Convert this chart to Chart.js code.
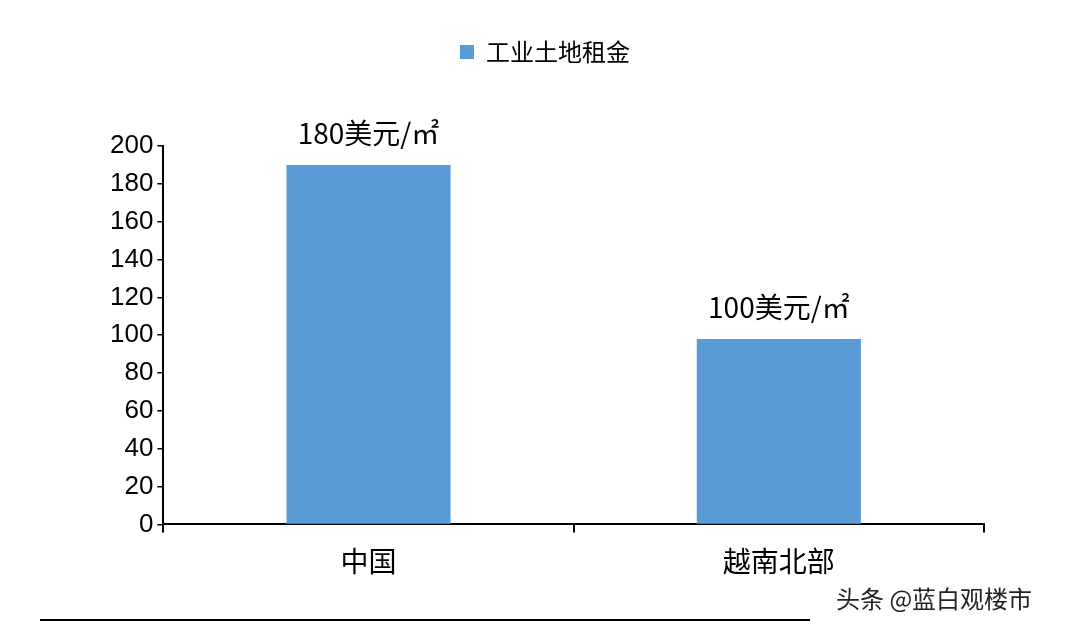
<!DOCTYPE html>
<html>
<head>
<meta charset="utf-8">
<script src="https://cdn.jsdelivr.net/npm/chart.js@4/dist/chart.umd.min.js"></script>
<style>
  html, body { margin: 0; padding: 0; background: #fff; }
  #wrap { width: 1080px; height: 630px; position: relative; }
</style>
</head>
<body>
<div id="wrap"><canvas id="c" width="1080" height="630"></canvas></div>
<script>
// --- data ---
const categories = ['中国', '越南北部'];
const rentValues = [190, 98];
const barLabels = ['180美元/㎡', '100美元/㎡'];
const seriesName = '工业土地租金';

// value labels above bars + footer line + watermark
const extrasPlugin = {
    id: 'extras',
    afterDatasetsDraw(chart) {
        const ctx = chart.ctx;
        const meta = chart.getDatasetMeta(0);
        ctx.save();
        ctx.fillStyle = '#000';
        ctx.font = '28px "Noto Sans CJK SC", sans-serif';
        ctx.textAlign = 'center';
        ctx.textBaseline = 'bottom';
        meta.data.forEach((bar, i) => {
            ctx.fillText(barLabels[i], bar.x, bar.y - 18);
        });
        // footer rule
        ctx.strokeStyle = '#000';
        ctx.lineWidth = 2;
        ctx.beginPath();
        ctx.moveTo(40, 620);
        ctx.lineTo(810, 620);
        ctx.stroke();
        // watermark
        ctx.font = '24px "Noto Sans CJK SC", sans-serif';
        ctx.textAlign = 'left';
        ctx.textBaseline = 'middle';
        ctx.fillStyle = '#222';
        ctx.fillText('头条 @蓝白观楼市', 836, 599);
        ctx.restore();
    }
};

new Chart(document.getElementById('c').getContext('2d'), {
    type: 'bar',
    data: {
        labels: categories,
        datasets: [{
            label: seriesName,
            data: rentValues,
            backgroundColor: '#5b9bd5',
            barPercentage: 0.4,
            categoryPercentage: 1.0
        }]
    },
    options: {
        responsive: false,
        animation: false,
        layout: { padding: { left: 106, right: 96, top: 0, bottom: 40 } },
        plugins: {
            legend: {
                display: true,
                position: 'top',
                labels: {
                    color: '#000',
                    font: { size: 24, family: '"Noto Sans CJK SC", sans-serif' },
                    boxWidth: 14, boxHeight: 14,
                    padding: 40
                }
            },
            tooltip: { enabled: false }
        },
        scales: {
            x: {
                grid: { display: true, drawOnChartArea: false, offset: true, color: '#000', tickLength: 8, lineWidth: 2 },
                border: { color: '#000', width: 2 },
                ticks: { color: '#000', padding: 12, font: { size: 28, family: '"Noto Sans CJK SC", serif' } }
            },
            y: {
                min: 0, max: 200,
                afterFit(scale) { scale.top = scale.top; },
                grid: { display: true, drawOnChartArea: false, color: '#000', tickLength: 6, lineWidth: 1.5 },
                border: { color: '#000', width: 2 },
                ticks: { stepSize: 20, color: '#000', padding: 4, font: { size: 26, family: '"Liberation Sans", sans-serif' } }
            }
        }
    },
    plugins: [extrasPlugin, {
        id: 'legendGap',
        beforeInit(chart) {
            const fit = chart.legend.fit;
            chart.legend.fit = function () { fit.bind(chart.legend)(); this.height += 72; };
        }
    }]
});
</script>
</body>
</html>
